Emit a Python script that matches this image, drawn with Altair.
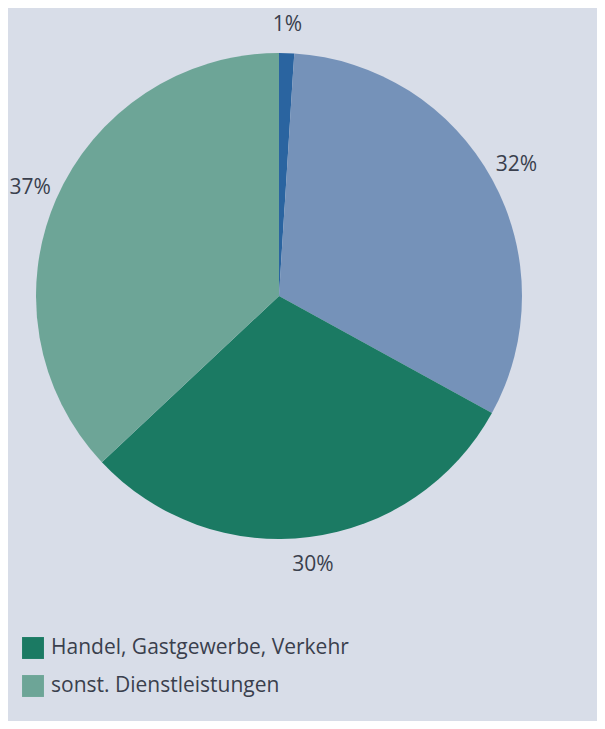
import altair as alt
import pandas as pd

categories = ["Land- und Forstwirtschaft", "Produzierendes Gewerbe", "Handel, Gastgewerbe, Verkehr", "sonst. Dienstleistungen"]
values = [1, 32, 30, 37]
labels = ["1%", "32%", "30%", "37%"]
colors = ["#2a64a0", "#7592b9", "#1b7a63", "#6da597"]
legend_items = ["Handel, Gastgewerbe, Verkehr", "sonst. Dienstleistungen"]

df = pd.DataFrame({"kategorie": categories, "anteil": values, "label": labels, "ord": list(range(len(values)))})

FONT = "Open Sans"
TEXT_COLOR = "#3a3f4d"
CX, CY = 271, 288

base = alt.Chart(df).encode(
    theta=alt.Theta("anteil:Q", stack=True),
    order=alt.Order("ord:Q"),
)

arcs = base.mark_arc(radius=243, stroke=None).encode(
    x=alt.value(CX),
    y=alt.value(CY),
    color=alt.Color(
        "kategorie:N",
        scale=alt.Scale(domain=categories, range=colors),
        sort=categories,
        legend=alt.Legend(
            values=legend_items,
            title=None,
            orient="none",
            legendX=14,
            legendY=629,
            symbolType="square",
            symbolSize=480,
            symbolStrokeWidth=0,
            labelFontSize=21,
            labelFont=FONT,
            labelColor=TEXT_COLOR,
            labelOffset=7,
            rowPadding=16,
            padding=0,
            labelLimit=400,
        ),
    ),
)

text = base.mark_text(radius=271, font=FONT, fontSize=21, color=TEXT_COLOR).encode(
    x=alt.value(CX),
    y=alt.value(CY),
    text="label:N",
)

chart = (
    alt.layer(arcs, text)
    .properties(width=589, height=713, background="#d8dde8", padding=0,
                autosize=alt.AutoSizeParams(type="none"))
    .configure_view(stroke=None)
)

chart.save("out.html", embed_options={"renderer": "svg", "actions": False})
